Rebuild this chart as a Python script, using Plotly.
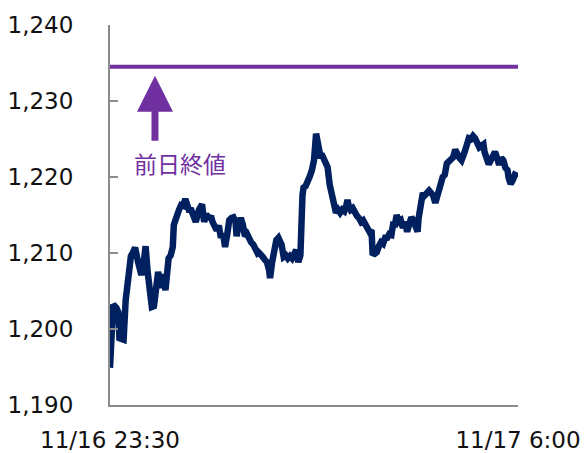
import pandas as pd
import plotly.graph_objects as go

# ---- data ----
minutes = [0, 2, 3, 6, 8, 9, 11, 13, 15, 17, 20, 22, 24, 27, 30, 32, 33, 34, 36, 38,
           40, 42, 44, 46, 49, 51, 53, 55, 56, 58, 60, 61, 63, 66, 68, 70, 72, 74, 76, 77,
           79, 82, 85, 88, 90, 92, 94, 97, 98, 100, 102, 104, 106, 108, 110, 112, 114, 116, 118, 120,
           121, 123, 125, 127, 129, 131, 133, 135, 137, 139, 141, 142, 144, 146, 148, 150, 152, 153, 155, 157,
           159, 161, 163, 164, 166, 168, 170, 172, 174, 176, 178, 180, 182, 184, 185, 187, 189, 191, 193, 195,
           197, 199, 201, 203, 205, 207, 208, 210, 212, 214, 216, 218, 220, 222, 224, 226, 227, 228, 230, 232,
           234, 236, 238, 240, 242, 244, 246, 248, 250, 251, 253, 255, 257, 259, 261, 263, 265, 267, 269, 271,
           272, 274, 276, 278, 280, 282, 284, 286, 288, 290, 292, 294, 295, 297, 299, 301, 303, 305, 307, 309,
           311, 313, 315, 316, 318, 320, 322, 324, 326, 328, 330, 332, 334, 336, 337, 339, 341, 343, 345, 347,
           349, 351, 353, 355, 357, 358, 360, 362, 364, 366, 368, 370, 372, 374, 376, 378, 380, 381, 383, 385,
           387, 390]
prices = [1194.9, 1199.9, 1203.2, 1202.8, 1202.2, 1198.8, 1198.6, 1198.6, 1203.8, 1206.2,
          1209.6, 1210.1, 1210.7, 1208.7, 1207.1, 1208.4, 1209.3, 1210.9, 1207.5, 1203.8,
          1202.9, 1203.0, 1204.7, 1207.5, 1205.4, 1207.2, 1205.1, 1207.5, 1209.3, 1209.7,
          1210.8, 1213.7, 1214.7, 1215.7, 1216.3, 1216.2, 1217.1, 1215.7, 1215.4, 1215.9,
          1215.3, 1214.1, 1215.7, 1216.4, 1214.1, 1215.1, 1214.7, 1214.6, 1214.1, 1213.7,
          1213.0, 1213.6, 1212.0, 1212.6, 1210.8, 1212.4, 1214.3, 1214.6, 1214.7, 1214.1,
          1212.2, 1213.7, 1214.6, 1213.7, 1212.2, 1212.5, 1211.7, 1211.4, 1211.1, 1210.4,
          1210.0, 1210.1, 1209.6, 1209.5, 1209.1, 1208.8, 1207.8, 1206.7, 1208.8, 1210.4,
          1211.7, 1212.0, 1211.4, 1211.1, 1209.5, 1209.7, 1209.3, 1209.6, 1209.3, 1209.7,
          1210.4, 1208.8, 1209.7, 1217.6, 1218.6, 1218.8, 1219.3, 1220.1, 1220.9, 1222.2,
          1225.7, 1223.6, 1222.8, 1222.8, 1222.0, 1221.4, 1221.3, 1219.0, 1217.6, 1216.3,
          1215.3, 1215.7, 1215.3, 1215.7, 1215.5, 1216.3, 1217.0, 1216.3, 1215.7, 1215.9,
          1215.1, 1214.9, 1214.6, 1214.1, 1214.3, 1213.7, 1213.3, 1212.8, 1213.0, 1210.0,
          1209.9, 1210.1, 1210.9, 1211.4, 1211.2, 1212.0, 1212.0, 1212.5, 1212.4, 1214.1,
          1213.4, 1215.0, 1214.1, 1214.3, 1213.3, 1214.1, 1212.8, 1214.1, 1214.7, 1214.3,
          1213.7, 1212.8, 1214.6, 1217.0, 1217.9, 1217.6, 1217.8, 1218.2, 1217.9, 1217.5,
          1216.6, 1218.0, 1218.4, 1219.0, 1220.0, 1220.3, 1221.8, 1222.0, 1222.2, 1222.6,
          1223.6, 1222.8, 1222.5, 1222.2, 1222.8, 1223.3, 1224.2, 1225.1, 1225.0, 1225.4,
          1225.1, 1224.2, 1223.9, 1224.1, 1224.3, 1223.3, 1222.5, 1221.7, 1222.2, 1222.9,
          1223.3, 1222.5, 1221.6, 1222.5, 1222.2, 1221.2, 1220.9, 1219.9, 1219.1, 1219.6,
          1220.3, 1220.1]
prev_close = 1234.5
start_time = "2023-11-16 23:30"
end_time = "2023-11-17 06:00"
x_tick_labels = ["11/16 23:30", "11/17 6:00"]
y_ticks = [1190, 1200, 1210, 1220, 1230, 1240]
label_text = "前日終値"

base = pd.Timestamp(start_time)
times = [base + pd.Timedelta(minutes=m) for m in minutes]

NAVY = "#002060"
PURPLE = "#7030A0"
AXIS = "#8c8c8c"
FONT = "DejaVu Sans"

fig = go.Figure()
fig.add_trace(go.Scatter(x=[start_time, end_time], y=[prev_close, prev_close],
                         mode="lines", line=dict(color=PURPLE, width=4),
                         hoverinfo="skip", showlegend=False))
fig.add_trace(go.Scatter(x=times, y=prices, mode="lines",
                         line=dict(color=NAVY, width=6.5),
                         showlegend=False))

# big arrow pointing up to the previous-close line
arrow_x = base + pd.Timedelta(minutes=43)
fig.add_shape(type="path", xref="x", yref="y",
              xsizemode="pixel", ysizemode="pixel",
              xanchor=arrow_x, yanchor=prev_close,
              path="M -18,-45 L 0,-9 L 18,-45 L 3.5,-45 L 3.5,-74 L -3.5,-74 L -3.5,-45 Z",
              fillcolor=PURPLE, line=dict(width=0), layer="above")

fig.add_annotation(x=base + pd.Timedelta(minutes=67), y=1221.8, xref="x", yref="y",
                   text=label_text, showarrow=False,
                   font=dict(family="Noto Sans CJK JP", size=23, color=PURPLE))

fig.update_layout(
    width=584, height=453,
    margin=dict(l=110, r=66, t=25, b=48),
    paper_bgcolor="white", plot_bgcolor="white",
    font=dict(family=FONT, size=23, color="#111111"),
)
fig.update_xaxes(type="date", range=[start_time, end_time],
                 tickvals=[start_time, end_time], ticktext=x_tick_labels,
                 showline=True, linecolor=AXIS, linewidth=2,
                 ticks="inside", ticklen=7, tickwidth=2, tickcolor=AXIS,
                 showgrid=False, zeroline=False, ticklabelstandoff=13,
                 automargin=False,
                 tickfont=dict(family=FONT, size=23, color="#111111"))
fig.update_yaxes(range=[1190, 1240], tickvals=y_ticks,
                 ticktext=[f"{v:,}" for v in y_ticks],
                 showline=True, linecolor=AXIS, linewidth=2,
                 ticks="inside", ticklen=8, tickwidth=2, tickcolor=AXIS,
                 showgrid=False, zeroline=False, ticklabelstandoff=30,
                 automargin=False,
                 tickfont=dict(family=FONT, size=23, color="#111111"))

fig.write_html("out.html")
